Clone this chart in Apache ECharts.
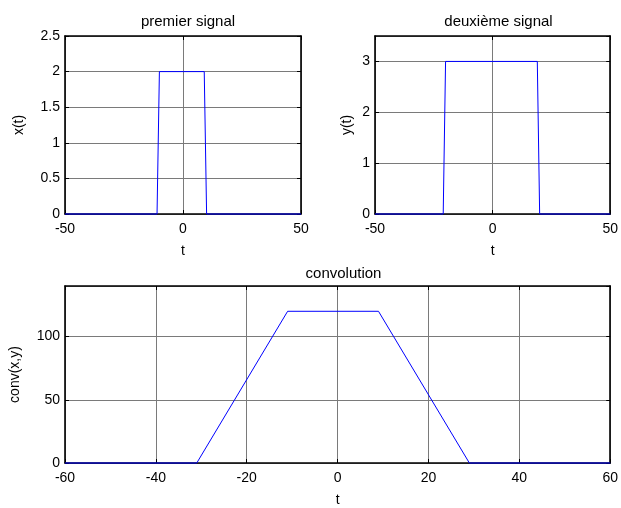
<!DOCTYPE html>
<html>
<head>
<meta charset="utf-8">
<script src="https://cdn.jsdelivr.net/npm/echarts@6/dist/echarts.min.js"></script>
<style>
  html, body { margin: 0; padding: 0; background: #fff; }
  #chart { width: 621px; height: 508px; }
</style>
</head>
<body>
<div id="chart"></div>
<script>
// premier signal : x(t) = 2 sur [-10, 9]
const signal1T = [-50, -11, -10, 9, 10, 50];
const signal1X = [0, 0, 2, 2, 0, 0];
// deuxième signal : y(t) = 3 sur [-20, 19]
const signal2T = [-50, -21, -20, 19, 20, 50];
const signal2Y = [0, 0, 3, 3, 0, 0];
// convolution conv(x, y) : trapèze de hauteur 120
const convT = [-60, -31, -11, 9, 29, 60];
const convV = [0, 0, 120, 120, 0, 0];

const titles = ['premier signal', 'deuxième signal', 'convolution'];
const yNames = ['x(t)', 'y(t)', 'conv(x,y)'];
const xName = 't';

const FONT = '"Liberation Sans", Arial, sans-serif';
const BLUE = '#0000ff';
const GRIDC = '#7a7a7a';

const grids = [
  { left: 65, top: 36, width: 236, height: 178 },
  { left: 375, top: 36, width: 237, height: 178 },
  { left: 65, top: 286, width: 547, height: 181 }
];

const xRanges = [
  { min: -50, max: 50, interval: 50 },
  { min: -50, max: 50, interval: 50 },
  { min: -60, max: 60, interval: 20 }
];
const yRanges = [
  { min: 0, max: 2.5, interval: 0.5 },
  { min: 0, max: 3.5, interval: 1 },
  { min: 0, max: 140, interval: 50 }
];
const yNameGaps = [39, 21, 43];

const pairs = [[signal1T, signal1X], [signal2T, signal2Y], [convT, convV]];

const frameLine = { show: true, lineStyle: { color: '#000', width: 1.6 } };
const tickIn = { show: true, inside: true, length: 4, lineStyle: { color: '#000', width: 1 } };
const labelStyle = { color: '#000', fontFamily: FONT, fontSize: 14 };

const xAxis = [], yAxis = [], series = [], title = [];

grids.forEach((g, i) => {
  const xr = xRanges[i], yr = yRanges[i];
  const onTick = (step) => (v) => (Math.abs(v / step - Math.round(v / step)) < 1e-9 ? String(v) : '');
  // axe du bas, avec graduations
  xAxis.push({
    type: 'value', gridIndex: i, position: 'bottom', ...xr,
    axisLine: { ...frameLine, onZero: false }, axisTick: tickIn,
    axisLabel: { ...labelStyle, margin: 8, formatter: onTick(xr.interval), showMinLabel: true, showMaxLabel: true },
    splitLine: { show: true, lineStyle: { color: GRIDC, width: 1 } },
    name: xName, nameLocation: 'middle', nameGap: 30,
    nameTextStyle: { ...labelStyle }
  });
  // cadre du haut : tirets seuls
  xAxis.push({
    type: 'value', gridIndex: i, position: 'top', ...xr,
    axisLine: { ...frameLine, onZero: false }, axisTick: tickIn,
    axisLabel: { show: false }, splitLine: { show: false }
  });
  yAxis.push({
    type: 'value', gridIndex: i, position: 'left', ...yr,
    axisLine: { ...frameLine, onZero: false }, axisTick: tickIn,
    axisLabel: { ...labelStyle, margin: 5, formatter: onTick(yr.interval), showMaxLabel: yr.max % yr.interval === 0 },
    splitLine: { show: true, lineStyle: { color: GRIDC, width: 1 } },
    name: yNames[i], nameLocation: 'middle', nameGap: yNameGaps[i], nameRotate: 90,
    nameTextStyle: { ...labelStyle }
  });
  yAxis.push({
    type: 'value', gridIndex: i, position: 'right', ...yr,
    axisLine: { ...frameLine, onZero: false }, axisTick: tickIn,
    axisLabel: { show: false }, splitLine: { show: false }
  });
  const [ts, vs] = pairs[i];
  series.push({
    type: 'line', xAxisIndex: 2 * i, yAxisIndex: 2 * i,
    data: ts.map((t, k) => [t, vs[k]]),
    showSymbol: false, clip: false, z: 5,
    lineStyle: { color: BLUE, width: 1 }, silent: true, animation: false
  });
  title.push({
    text: titles[i], left: g.left + g.width / 2, top: i < 2 ? 9 : 261, textAlign: 'center',
    textStyle: { color: '#000', fontFamily: FONT, fontSize: 15, fontWeight: 'normal' }
  });
});

const chart = echarts.init(document.getElementById('chart'), null, { renderer: 'canvas' });
chart.setOption({
  backgroundColor: '#fff',
  animation: false,
  title, grid: grids, xAxis, yAxis, series
});
</script>
</body>
</html>
